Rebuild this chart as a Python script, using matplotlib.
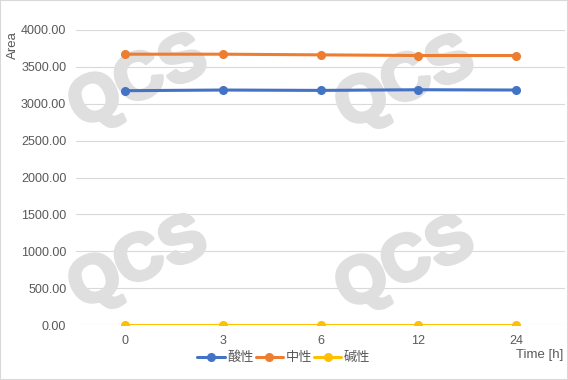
import matplotlib.pyplot as plt
import matplotlib.patheffects as pe
from matplotlib.patches import Rectangle

plt.rcParams['font.family'] = ['Liberation Sans', 'Noto Sans CJK SC', 'DejaVu Sans']

times = ['0', '3', '6', '12', '24']
acidic = [3177, 3186, 3181, 3190, 3186]
neutral = [3672, 3672, 3663, 3654, 3654]
alkaline = [0, 0, 0, 0, 0]
series_names = ['酸性', '中性', '碱性']
colors = ['#4472C4', '#ED7D31', '#FFC000']

fig = plt.figure(figsize=(5.68, 3.80), dpi=100)
ax = fig.add_axes([76 / 568, 1 - 325 / 380, 489 / 568, 295 / 380])

x = range(len(times))
for vals, name, c in zip([acidic, neutral, alkaline], series_names, colors):
    ax.plot(x, vals, color=c, linewidth=2.2, marker='o', markersize=5.5, label=name,
            solid_capstyle='round', zorder=3)

ax.set_xlim(-0.5, len(times) - 0.5)
ax.set_ylim(0, 4000)
ax.set_yticks(range(0, 4001, 500))
ax.set_yticklabels([f'{v:.2f}' for v in range(0, 4001, 500)])
ax.set_xticks(list(x))
ax.set_xticklabels(times)
ax.tick_params(length=0, colors='#595959', labelsize=9)
ax.tick_params(axis='x', pad=7)
ax.tick_params(axis='y', pad=7)
ax.grid(axis='y', color='#d9d9d9', linewidth=0.8)
ax.set_axisbelow(True)
for s in ax.spines.values():
    s.set_visible(False)

# Axis titles
fig.text(13 / 568, 1 - 45 / 380, 'Area', rotation=90, ha='center', va='center',
         color='#595959', fontsize=9.5)
fig.text(563 / 568, 1 - 355 / 380, 'Time [h]', ha='right', va='center',
         color='#595959', fontsize=9.5)

# Legend
fig.legend(loc='center', bbox_to_anchor=(284 / 568, 1 - 358 / 380), ncol=3,
           frameon=False, fontsize=9.5, handlelength=2.1, columnspacing=0.1,
           handletextpad=0.2, labelcolor='#595959')

# Watermarks, letter by letter (grey, between grid and lines)
wm_color = '#dfdfdf'
letter_offsets = [('Q', -44, 21), ('C', 0, 0), ('S', 44, -18)]
for cx, cy in [(140, 81), (407, 82), (140, 262), (407, 263)]:
    for ch, dx, dy in letter_offsets:
        ax.text((cx + dx) / 568, 1 - (cy + dy) / 380, ch, rotation=25,
                transform=fig.transFigure, ha='center', va='center',
                fontsize=47, fontweight='bold', color=wm_color, zorder=2,
                path_effects=[pe.withStroke(linewidth=3, foreground=wm_color)])

# Chart border
fig.patches.append(Rectangle((0, 0), 1, 1, transform=fig.transFigure, fill=False,
                             edgecolor='#d9d9d9', linewidth=1.5))

fig.savefig('out.png', dpi=100)
